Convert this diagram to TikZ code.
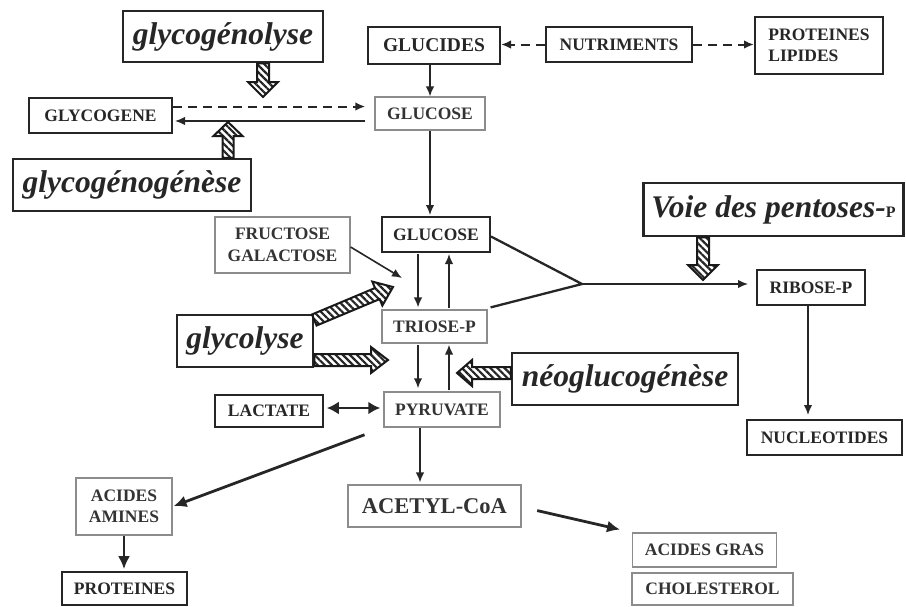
\documentclass[tikz,border=0pt]{standalone}
\usepackage{fontspec}
\setmainfont{Liberation Serif}
\usetikzlibrary{arrows.meta,calc,patterns.meta}
\newcommand{\hatcharr}[5]{%
  \coordinate (hh) at ($(#2)!#5pt!(#1)$);
  \draw[hatch] ($(#1)!#3pt!90:(#2)$) -- ($(hh)!#3pt!90:(#2)$) -- ($(hh)!#4pt!90:(#2)$) -- (#2)
     -- ($(hh)!#4pt!-90:(#2)$) -- ($(hh)!#3pt!-90:(#2)$) -- ($(#1)!#3pt!-90:(#2)$) -- cycle;}
\begin{document}
\begin{tikzpicture}[x=1pt,y=1pt,
  lbl/.style={font=\fontsize{17.5}{21.5}\selectfont\bfseries, text=black!85, inner sep=0pt, align=center},
  thick box/.style={lbl, draw=black!85, line width=2pt},
  thin box/.style={lbl, draw=black!45, line width=1.2pt, text=black!80},
  proc/.style={draw=black!85, line width=2.5pt, inner sep=0pt, font=\fontsize{31.5}{36}\selectfont\bfseries\itshape, text=black!85},
  sz/.style 2 args={minimum width=#1, minimum height=#2},
  arr/.style={line width=1.6pt, draw=black!85, -{Latex[length=10pt,width=8.5pt]}},
  dasharr/.style={line width=2pt, draw=black!85, dash pattern=on 9pt off 6pt, -{Latex[length=10pt,width=8.5pt]}},
  thickarr/.style={line width=2.8pt, draw=black!85, -{Latex[length=13pt,width=12pt]}},
  dblarr/.style={line width=2.8pt, draw=black!85, {Latex[length=12pt,width=13pt]}-{Latex[length=12pt,width=13pt]}},
  vline/.style={line width=2.3pt, draw=black!85},
  hatch/.style={draw=black!90, line width=2pt, pattern={Lines[angle=-45,distance=5pt,line width=2.2pt]}, pattern color=black!85}
]
\useasboundingbox (0,0) rectangle (906,-606);
% nodes
\node[proc, sz={200}{51}] (glyn) at (223,-36.5) {glycogénolyse};
\node[thick box, font=\fontsize{19.5}{22}\selectfont\bfseries, sz={132}{37}] (glucides) at (434,-45.5) {GLUCIDES};
\node[thick box, sz={146}{35}] (nutri) at (619,-44.5) {NUTRIMENTS};
\node[thick box, align=left, sz={128}{57}] (protlip) at (819,-45.5) {PROTEINES\\LIPIDES};
\node[thick box, sz={143}{35}] (glycogene) at (100.5,-115.5) {GLYCOGENE};
\node[thin box, sz={110}{33}] (gluc1) at (430,-113.5) {GLUCOSE};
\node[proc, sz={238}{52}] (glyg) at (132,-185) {glycogénogénèse};
\node[thin box, sz={135}{56}] (frugal) at (282.5,-245) {FRUCTOSE\\GALACTOSE};
\node[thick box, sz={108}{35}] (gluc2) at (436,-234.5) {GLUCOSE};
\node[thin box, sz={105}{33}] (triose) at (434.5,-326.5) {TRIOSE-P};
\node[thin box, line width=1.5pt, sz={116}{35}] (pyr) at (442,-409.5) {PYRUVATE};
\node[thick box, line width=1.6pt, sz={108}{32}] (lact) at (269,-411) {LACTATE};
\node[proc, sz={136}{52}] (glycol) at (245,-341) {glycolyse};
\node[proc, sz={226}{52}] (neo) at (625,-379) {néoglucogénèse};
\node[proc, sz={260}{53}] (voie) at (773.5,-209.5) {Voie des pentoses-{\upshape\fontsize{16}{16}\selectfont P}};
\node[thick box, sz={108}{35}] (ribose) at (811,-287.5) {RIBOSE-P};
\node[thick box, sz={155}{35}] (nucl) at (824.5,-437.5) {NUCLEOTIDES};
\node[thin box, sz={96}{57}] (aa) at (124,-506.5) {ACIDES\\AMINES};
\node[thick box, line width=1.6pt, sz={125}{33}] (prot) at (124.5,-588.5) {PROTEINES};
\node[thin box, font=\fontsize{22.5}{26}\selectfont\bfseries, sz={173}{42}] (acetyl) at (434.5,-506) {ACETYL-CoA};
\node[thin box, line width=1.5pt, sz={144}{34}] (ag) at (704.5,-550) {ACIDES GRAS};
\node[thin box, line width=1.5pt, sz={161}{32}] (chol) at (712.5,-589) {CHOLESTEROL};
% free ends
\coordinate (fgtip) at (402,-278);
\coordinate (vpt) at (582,-284);
% connectors
\draw[dasharr] (nutri.west) -- (nutri.west -| glucides.east);
\draw[dasharr] (nutri.east) -- (nutri.east -| protlip.west);
\draw[arr] (gluc1.north |- glucides.south) -- (gluc1.north);
\draw[dasharr, shorten >=9pt] ([yshift=9]glycogene.east) -- ([yshift=9]glycogene.east -| gluc1.west);
\draw[arr, shorten <=9pt, shorten >=2pt] ([yshift=-7.5]gluc1.west) -- ([yshift=-7.5]gluc1.west -| glycogene.east);
\draw[arr, shorten >=1pt] (gluc1.south) -- (gluc1.south |- gluc2.north);
\draw[arr, shorten <=1pt, shorten >=2pt] ([xshift=-18]gluc2.south) -- ([xshift=-18]gluc2.south |- triose.north);
\draw[arr, shorten <=1pt, shorten >=1pt] ([xshift=14.5]triose.north) -- ([xshift=14.5]triose.north |- gluc2.south);
\draw[arr, shorten <=1pt, shorten >=3pt] ([xshift=-16.5]triose.south) -- ([xshift=-16.5]triose.south |- pyr.north);
\draw[arr, shorten <=1pt, shorten >=1pt] ([xshift=14.5]triose.south |- pyr.north) -- ([xshift=14.5]triose.south);
\draw[arr] ([yshift=-2]frugal.east) -- (fgtip);
\draw[vline] ([yshift=-2]gluc2.east) -- (vpt) -- ([xshift=3,yshift=2]triose.north east);
\draw[arr, shorten >=8pt] (vpt) -- (vpt -| ribose.west);
\draw[arr, shorten >=4pt] ([xshift=-3]ribose.south) -- ([xshift=-3]ribose.south |- nucl.north);
\draw[dblarr, shorten <=3pt, shorten >=3pt] ([yshift=3]lact.east) -- ([yshift=3]lact.east -| pyr.west);
\draw[thickarr, shorten <=20pt, shorten >=1pt] (pyr.south west) -- (aa.east);
\draw[arr, shorten >=2pt] ([xshift=-14.5]acetyl.north |- pyr.south) -- ([xshift=-14.5]acetyl.north);
\draw[thickarr, shorten <=16pt, shorten >=12pt] ([yshift=-1]acetyl.east) -- (ag.north west);
\draw[thickarr, shorten >=2pt] (aa.south) -- (aa.south |- prot.north);
% hatched arrows
\coordinate (h1e) at (263,-97);
\coordinate (h1s) at (glyn.south -| h1e);
\coordinate (h2e) at (228,-122);
\coordinate (h2s) at (glyg.north -| h2e);
\coordinate (h3s) at ([yshift=21]glycol.east);
\coordinate (h3e) at (393,-287);
\coordinate (h4s) at ([yshift=-19]glycol.east);
\coordinate (h4e) at (388,-360);
\coordinate (h5s) at ([yshift=6]neo.west);
\coordinate (h5e) at (457,-373);
\coordinate (h6e) at (703,-280);
\coordinate (h6s) at (voie.south -| h6e);
\hatcharr{h1s}{h1e}{6}{15}{15}
\hatcharr{h2s}{h2e}{5.5}{14.5}{14}
\hatcharr{h3s}{h3e}{6}{13}{17}
\hatcharr{h4s}{h4e}{6}{13}{17}
\hatcharr{h5s}{h5e}{6}{13}{15}
\hatcharr{h6s}{h6e}{6}{15}{15}
\end{tikzpicture}
\end{document}
